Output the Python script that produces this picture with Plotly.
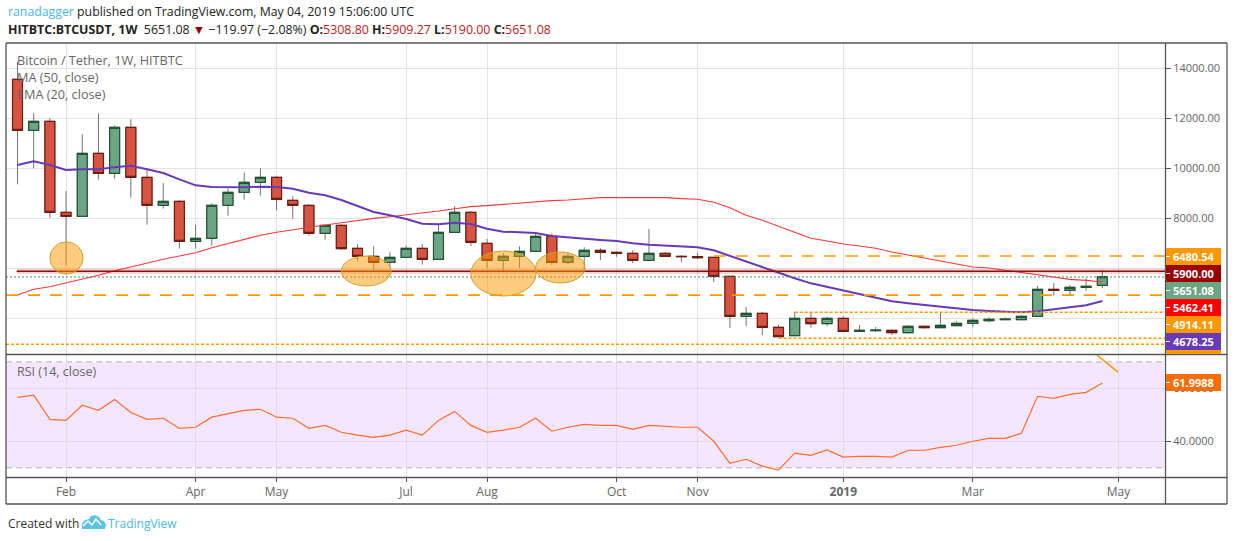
import datetime as dt
import plotly.graph_objects as go
from plotly.subplots import make_subplots

W, H = 1234, 541
START = dt.datetime(2018, 1, 15)

def wk(i):
    return (START + dt.timedelta(days=7 * i)).strftime("%Y-%m-%d %H:%M")

open_ = [13547,11507,11867,8227,8067,10587,9787,11627,9627,8507,8667,7067,7187,8507,9027,9427,9627,8707,8507,7387,
         7707,6787,6467,6227,6427,6787,6347,7427,8227,6987,6307,6467,6667,7267,6227,6467,6707,6627,6587,6307,
         6587,6467,6453,6427,5667,4067,4187,3627,3293,3987,3773,3987,3467,3493,3507,3413,3667,3613,3693,3787,
         3893,3933,3933,4067,5147,5107,5227,5308.80]
high = [14249,12187,11987,9080,11347,12187,11707,11947,9987,9400,8707,7720,8587,9187,9827,9987,9680,8867,8547,7707,
        7747,6947,6867,6627,6907,6960,7720,8480,8280,7160,6600,6867,7360,7387,6587,6827,6787,6667,6707,7560,
        6627,6507,6600,6427,5667,4440,4240,3720,4240,4227,4053,4067,3720,3640,3533,3707,3693,4227,3867,3987,
        4027,4027,4107,5280,5400,5320,5600,5909.27]
low = [9347,9987,8013,6093,8067,9533,9573,8813,7733,8373,6773,6773,6893,8093,8733,8893,8293,7973,7293,7133,
       6733,6293,5933,5987,6427,6133,6347,7427,6880,6000,5867,6000,6667,6120,6160,5853,6320,6453,6200,6307,
       6440,6240,6360,5440,3600,3680,3320,3253,3293,3613,3667,3467,3453,3453,3320,3373,3573,3613,3680,3653,
       3827,3920,3907,4067,4893,4907,5093,5190.00]
close = [11507,11867,8227,8067,10587,9787,11627,9627,8507,8667,7067,7187,8507,9027,9427,9627,8747,8507,7387,7707,
         6773,6467,6227,6427,6787,6347,7427,8227,7027,6307,6467,6667,7267,6227,6467,6707,6627,6587,6307,6587,
         6467,6453,6413,5667,4067,4187,3627,3253,3987,3773,3987,3467,3507,3520,3413,3667,3613,3707,3787,3907,
         3947,3960,4067,5147,5107,5227,5267,5651.08]
purple_line = [10120,10267,10120,9920,9947,9947,10027,10093,9947,9800,9547,9307,9240,9227,9227,9253,9240,9173,9013,8907,
               8720,8480,8240,8107,7960,7773,7747,7813,7760,7573,7453,7427,7400,7280,7227,7147,7120,7080,6987,6933,
               6893,6853,6827,6707,6480,6267,6053,5800,5590,5387,5240,5093,4960,4813,4667,4587,4520,4440,4360,4320,
               4280,4253,4227,4267,4347,4427,4507,4678]
red_line = [4920,5147,5253,5400,5547,5707,5893,6053,6213,6347,6480,6613,6813,6987,7160,7307,7427,7533,7627,7720,
            7813,7907,7987,8053,8120,8205,8280,8373,8453,8493,8547,8587,8653,8693,8720,8760,8813,8813,8813,8813,
            8813,8773,8747,8627,8413,8107,7907,7667,7430,7187,7080,6960,6880,6787,6640,6520,6373,6253,6147,6040,
            6000,5907,5813,5733,5640,5547,5507,5440]
rsi = [56.6,57.4,48.3,47.9,53.6,51.7,55.8,50.9,48.3,48.7,44.9,45.3,49.1,50.3,51.7,52.1,49.1,48.7,44.9,46.0,
       43.4,42.3,41.5,42.3,44.2,42.3,47.9,51.3,46.0,43.4,44.2,45.3,48.7,43.8,45.3,46.4,46.0,46.0,44.5,46.0,
       45.7,45.3,45.3,40.0,31.7,33.2,30.6,29.1,35.5,34.7,36.7,34.0,34.3,34.3,34.0,36.6,36.6,37.7,38.5,40.0,
       41.1,41.1,43.0,57.0,56.2,57.7,58.5,62.0]
rsi_trend_x = [66.66, 67.97]
rsi_trend_y = [72.6, 66.1]

date_ticks = [3, 11, 16, 24, 29, 37, 42, 51, 59, 68]
date_labels = ["Feb", "Apr", "May", "Jul", "Aug", "Oct", "Nov", "<b>2019</b>", "Mar", "May"]
price_ticks = [4000, 6000, 8000, 10000, 12000, 14000]
price_labels = ["", "", "8000.00", "10000.00", "12000.00", "14000.00"]
rsi_ticks = [40, 60]
rsi_labels = ["40.0000", "60.0000"]

# (first week, last week, low price, high price)
ellipses = [(2.0, 4.05, 5760, 7040), (20.0, 23.07, 5280, 6480), (28.0, 32.03, 4880, 6680), (32.0, 35.05, 5400, 6640)]
level_res = 5870
level_last = 5640
# (price, first week, style)
levels = [(6480, 43.0, "long"), (4914, -0.71, "long"), (4230, 48.0, "short"), (3190, 47.0, "short"), (2950, -0.71, "short")]
value_tags = [("6480.54", "#ff9800", 256.5), ("5900.00", "#990000", 273.5), ("5651.08", "#6ba583", 290.5),
              ("5462.41", "#ff0000", 307.5), ("4914.11", "#ff9800", 324.5), ("4678.25", "#673ab7", 341.5),
              ("61.9988", "#ff6d00", 382.5)]

FONT = "Open Sans"
GRID = "#e4e4e4"
FRAME = "#555555"

def px(x):
    return x / W

def py(y):
    return 1 - y / H

dates = [wk(i) for i in range(len(close))]
x_range = [wk(-0.71), wk(70.87)]

fig = make_subplots(rows=2, cols=1, shared_xaxes=False)

fig.add_trace(go.Scatter(x=dates, y=red_line, mode="lines", line=dict(color="#f6393c", width=1.1)), row=1, col=1)
fig.add_trace(go.Scatter(x=dates, y=purple_line, mode="lines", line=dict(color="#673ab7", width=2)), row=1, col=1)
fig.add_trace(go.Candlestick(
    x=dates, open=open_, high=high, low=low, close=close,
    increasing=dict(line=dict(color="#737375", width=1), fillcolor="#737375"),
    decreasing=dict(line=dict(color="#737375", width=1), fillcolor="#737375"),
    hoverinfo="skip"), row=1, col=1)
fig.add_trace(go.Candlestick(
    x=dates, open=open_, close=close,
    high=[max(a, b) for a, b in zip(open_, close)], low=[min(a, b) for a, b in zip(open_, close)],
    increasing=dict(line=dict(color="#225437", width=1.2), fillcolor="#6ba583"),
    decreasing=dict(line=dict(color="#6f1c12", width=1.2), fillcolor="#d75442"),
    hoverinfo="skip"), row=1, col=1)
fig.add_trace(go.Scatter(x=dates, y=rsi, mode="lines", line=dict(color="#ff6d2e", width=1.2)), row=2, col=1)
fig.add_trace(go.Scatter(x=[wk(i) for i in rsi_trend_x], y=rsi_trend_y, mode="lines",
                         line=dict(color="#ff9800", width=1.6), cliponaxis=False), row=2, col=1)

shapes = []
shapes.append(dict(type="rect", xref="x2", yref="y2", x0=x_range[0], x1=wk(70.8), y0=30, y1=70,
                   fillcolor="#f4e6fe", line_width=0, layer="below"))
for lv in (70, 30):
    shapes.append(dict(type="line", xref="x2", yref="y2", x0=x_range[0], x1=wk(70.8), y0=lv, y1=lv,
                       line=dict(color="#b9aebf", width=1, dash="6px,4px"), layer="below"))
shapes.append(dict(type="line", xref="x", yref="y", x0=x_range[0], x1=x_range[1], y0=level_last, y1=level_last,
                   line=dict(color="#4f8a68", width=1, dash="2px,2px")))
for price, first, style in levels:
    dash = "12px,10px" if style == "long" else "3px,2px"
    shapes.append(dict(type="line", xref="x", yref="y", x0=wk(first), x1=x_range[1], y0=price, y1=price,
                       line=dict(color="#ff9800", width=1.7, dash=dash)))
shapes.append(dict(type="line", xref="x", yref="y", x0=wk(-0.05), x1=x_range[1], y0=level_res, y1=level_res,
                   line=dict(color="rgba(153,0,0,0.18)", width=5)))
shapes.append(dict(type="line", xref="x", yref="y", x0=wk(-0.05), x1=x_range[1], y0=level_res, y1=level_res,
                   line=dict(color="#8f0f0f", width=1.6)))
for a, b, lo, hi in ellipses:
    shapes.append(dict(type="circle", xref="x", yref="y", x0=wk(a), x1=wk(b), y0=lo, y1=hi,
                       fillcolor="rgba(255,152,0,0.5)", line=dict(color="#c8a32a", width=1)))
for x0, y0, x1, y1 in [(6, 43, 1227, 43), (6, 504, 1227, 504), (6, 43, 6, 504), (1227, 43, 1227, 504),
                       (1165.5, 43, 1165.5, 504), (6, 354.5, 1227, 354.5), (6, 477.5, 1227, 477.5)]:
    shapes.append(dict(type="line", xref="paper", yref="paper", x0=px(x0), x1=px(x1), y0=py(y0), y1=py(y1),
                       line=dict(color=FRAME, width=1.3)))
shapes.append(dict(type="rect", xref="paper", yref="paper", x0=px(1166), x1=px(1221), y0=py(350), y1=py(354),
                   fillcolor="#ff9800", line_width=0))
annotations = []
for text, color, yc in value_tags:
    shapes.append(dict(type="rect", xref="paper", yref="paper", x0=px(1166), x1=px(1221), y0=py(yc - 8.5), y1=py(yc + 8.5),
                       fillcolor=color, line_width=0))
    shapes.append(dict(type="line", xref="paper", yref="paper", x0=px(1166), x1=px(1170), y0=py(yc), y1=py(yc),
                       line=dict(color="#ffffff", width=1)))
    annotations.append(dict(xref="paper", yref="paper", x=px(1193.5), y=py(yc), text="<b>" + text + "</b>", showarrow=False,
                            xanchor="center", yanchor="middle", font=dict(family=FONT, size=11, color="#ffffff")))
logo_pts = [(82, 529), (82, 524), (85, 520), (89, 519), (91, 516), (95, 515), (99, 517), (101, 520),
            (104, 521), (106, 525), (105, 529)]
path = "M " + " L ".join(f"{px(a):.5f},{py(b):.5f}" for a, b in logo_pts) + " Z"
shapes.append(dict(type="path", xref="paper", yref="paper", path=path, fillcolor="#5ec2e8", line_width=0))
zig = [(83, 526), (88, 521), (92, 525), (96, 519), (101, 525)]
path2 = "M " + " L ".join(f"{px(a):.5f},{py(b):.5f}" for a, b in zig)
shapes.append(dict(type="path", xref="paper", yref="paper", path=path2, line=dict(color="#ffffff", width=1.4)))

def label(x, y, text, size, color, anchor="left"):
    annotations.append(dict(xref="paper", yref="paper", x=px(x), y=py(y), text=text, showarrow=False,
                            xanchor=anchor, yanchor="middle", align="left", font=dict(family=FONT, size=size, color=color)))

RV = "color:#b71c1c"
label(6, 12, "<span style='color:#4ab8e8'>ranadagger</span> published on TradingView.com, May 04, 2019 15:06:00 UTC", 12.3, "#222222")
label(6, 29, f"<b>HITBTC:BTCUSDT, 1W</b>  5651.08 <span style='color:#8b0000'>▼</span> −119.97 (−2.08%) "
             f"<b>O:</b><span style='{RV}'>5308.80</span> <b>H:</b><span style='{RV}'>5909.27</span> "
             f"<b>L:</b><span style='{RV}'>5190.00</span> <b>C:</b><span style='{RV}'>5651.08</span>", 12.4, "#222222")
label(15, 60, "Bitcoin / Tether, 1W, HITBTC", 12.7, "#666666")
label(15, 77, "MA (50, close)", 12.7, "#666666")
label(15, 94, "EMA (20, close)", 12.7, "#666666")
label(15, 371, "RSI (14, close)", 12.5, "#666666")
label(6, 523, "Created with", 12, "#333333")
label(105.5, 523, "TradingView", 12, "#4ab8e8")

tick_x = [wk(i) for i in date_ticks]
common_x = dict(type="date", range=x_range, tickmode="array", tickvals=tick_x, showgrid=True, gridwidth=1,
                showline=False, zeroline=False, rangeslider=dict(visible=False))
tick_font = dict(family=FONT, size=11, color="#666666")
fig.update_layout(
    width=W, height=H, autosize=False, margin=dict(l=0, r=0, t=0, b=0),
    paper_bgcolor="#ffffff", plot_bgcolor="#ffffff", showlegend=False, hovermode=False,
    boxmode="overlay", boxgap=0.12,
    font=dict(family=FONT, color="#666666", size=12),
    shapes=shapes, annotations=annotations,
    xaxis=dict(common_x, domain=[px(6), px(1165)], anchor="y", gridcolor=GRID, ticks="", showticklabels=False),
    xaxis2=dict(common_x, domain=[px(6), px(1165)], anchor="y2", gridcolor="#e2d9ea", ticktext=date_labels,
                ticks="outside", ticklen=4, tickcolor=FRAME, tickwidth=1, showticklabels=True,
                tickfont=dict(family=FONT, size=12, color="#666666")),
    yaxis=dict(domain=[py(354), py(43)], anchor="x", side="right", range=[2560, 15000], tickmode="array",
               tickvals=price_ticks, ticktext=price_labels, gridcolor=GRID, gridwidth=1, zeroline=False, showline=False,
               ticks="outside", ticklen=5, tickcolor=FRAME, tickfont=tick_font),
    yaxis2=dict(domain=[py(477), py(355)], anchor="x2", side="right", range=[26.5, 72.6], tickmode="array",
                tickvals=rsi_ticks, ticktext=rsi_labels, gridcolor="#e2d9ea", gridwidth=1, zeroline=False, showline=False,
                ticks="outside", ticklen=5, tickcolor=FRAME, tickfont=tick_font),
)

fig.write_html("out.html", config=dict(displayModeBar=False, staticPlot=True),
               post_script="document.body.style.margin='0';document.body.style.overflow='hidden';")
